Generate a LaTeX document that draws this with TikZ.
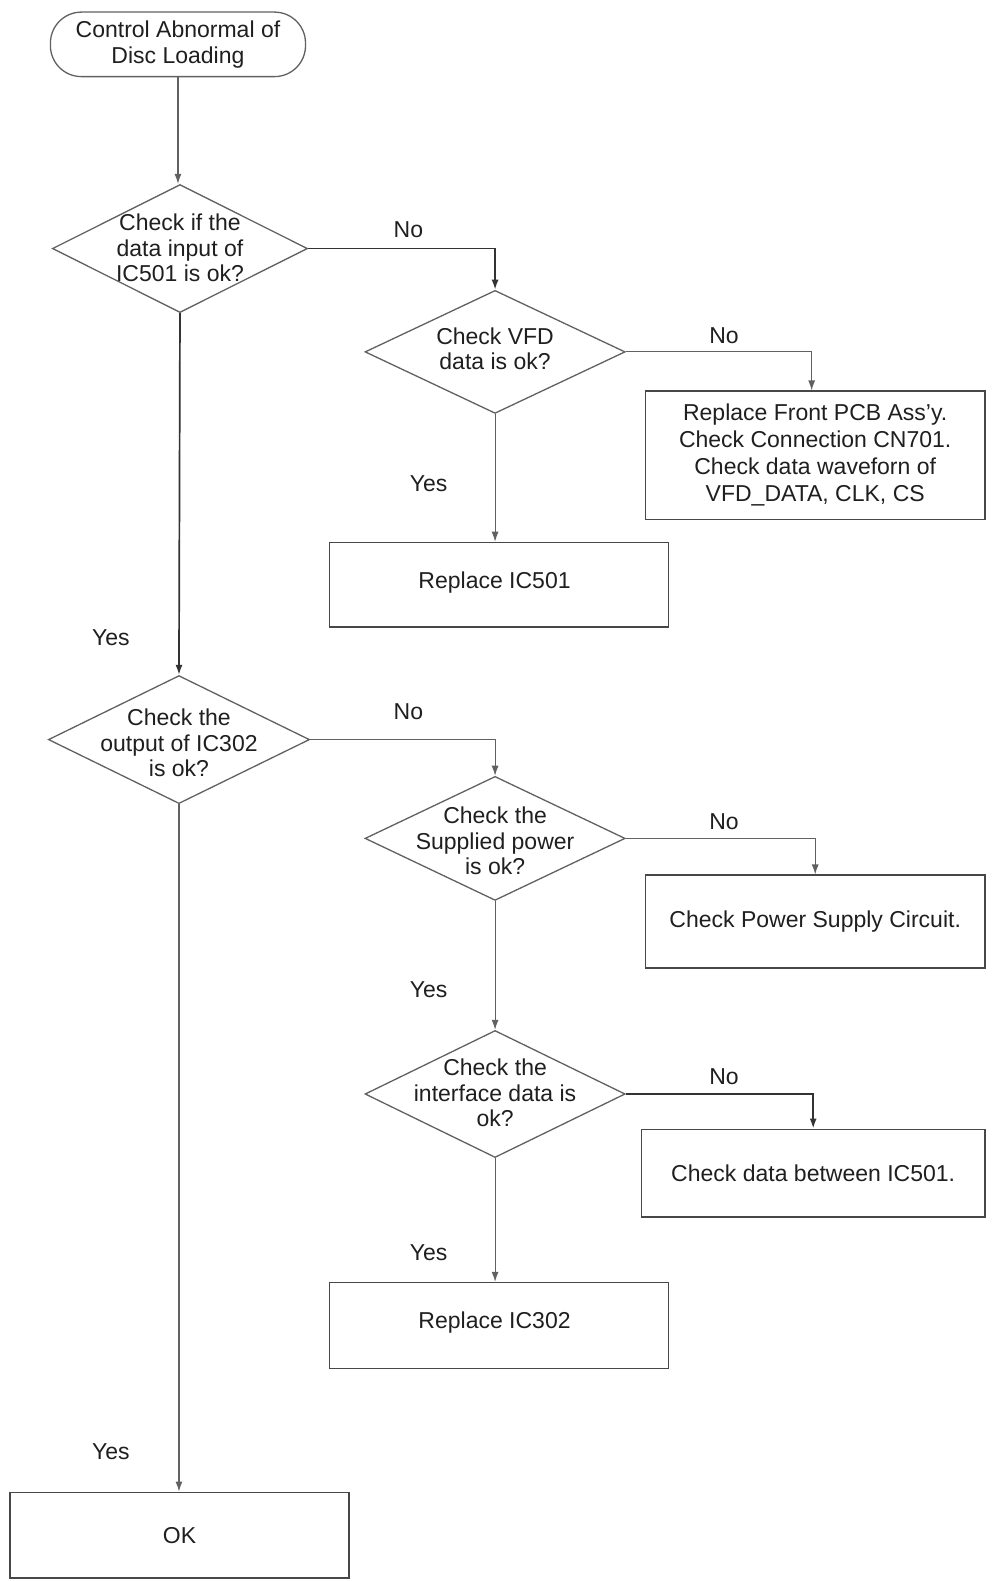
\documentclass[tikz,border=0pt]{standalone}
\usepackage{fontspec}
\setmainfont{Liberation Sans}
\usetikzlibrary{shapes.geometric,arrows.meta}
\begin{document}
\begin{tikzpicture}[x=1.008pt,y=-1.008pt,
  every node/.style={font=\fontsize{23}{25.5}\selectfont, text=black!88},
  ln/.style={draw=black!62, line width=1.1pt},
  thk/.style={draw=black!80, line width=1.7pt},
  arrtip/.style={-{Latex[length=10pt,width=7pt]}},
  box/.style={draw=black!72, line width=1.5pt, rectangle, align=center, inner sep=0pt},
  dia/.style={draw=black!62, line width=1.3pt, diamond, inner sep=0pt},
  dtext/.style={align=center},
  lbl/.style={inner sep=0pt}]
\fill[white] (0,0) rectangle (984,1568);
\useasboundingbox (0,0) rectangle (984,1568);

% start
\node[draw=black!62, line width=1.3pt, rectangle, rounded corners=31pt,
  minimum width=253*1.008pt, minimum height=64*1.008pt, align=center, inner sep=0pt]
  (start) at (176.5,44) {Control Abnormal of\\Disc Loading};

% diamonds
\node[dia, minimum width=253*1.008pt, minimum height=127*1.008pt] (d1) at (178.5,246.5) {};
\node[dtext] (t1) at (178.5,246) {Check if the\\data input of\\IC501 is ok?};

\node[dia, minimum width=258*1.008pt, minimum height=122*1.008pt] (d2) at (491,349) {};
\node[dtext] (t2) at (491,346) {Check VFD\\data is ok?};

\node[dia, minimum width=259*1.008pt, minimum height=127*1.008pt] (d3) at (177.5,733.5) {};
\node[dtext] (t3) at (177.5,737) {Check the\\output of IC302\\is ok?};

\node[dia, minimum width=258*1.008pt, minimum height=123*1.008pt] (d4) at (491,831.5) {};
\node[dtext] (t4) at (491,834) {Check the\\Supplied power\\is ok?};

\node[dia, minimum width=258*1.008pt, minimum height=126*1.008pt] (d5) at (491,1085) {};
\node[dtext] (t5) at (491,1084) {Check the\\interface data is\\ok?};

% boxes
\node[box, minimum width=337*1.008pt, minimum height=127*1.008pt, font=\fontsize{23}{27}\selectfont] (b1) at (808.5,451.5)
  {Replace Front PCB Ass'y.\\Check Connection CN701.\\Check data waveforn of\\VFD\_DATA, CLK, CS};
\node[box, minimum width=336*1.008pt, minimum height=84*1.008pt] (b2) at (495,580) {};
\node (b2t) at (490.5,578) {Replace IC501};
\node[box, minimum width=337*1.008pt, minimum height=92*1.008pt] (b3) at (808.5,914) {Check Power Supply Circuit.};
\node[box, minimum width=341*1.008pt, minimum height=87*1.008pt] (b4) at (806.5,1163.5) {Check data between IC501.};
\node[box, minimum width=336*1.008pt, minimum height=85*1.008pt] (b5) at (495,1314.5) {};
\node (b5t) at (490.5,1312) {Replace IC302};
\node[box, minimum width=336*1.008pt, minimum height=85*1.008pt] (b6) at (178,1522.5) {OK};

% connectors
\draw[ln, arrtip] (start.south) -- (start.south |- d1.north);
\draw[thk, arrtip] (d1.east) -| (d2.north);
\draw[ln, arrtip] (d2.east) -| (b1.north -| 805,0);
\draw[ln, arrtip] (d2.south) -- (d2.south |- b2.north);
\draw[thk, arrtip] (d1.south) -- (d3.north);
\draw[ln, arrtip] (d3.east) -| (d4.north);
\draw[ln, arrtip] (d4.east) -| (b3.north);
\draw[ln, arrtip] (d4.south) -- (d5.north);
\draw[thk, arrtip] (d5.east) -| (b4.north);
\draw[ln, arrtip] (d5.south) -- (d5.south |- b5.north);
\draw[ln, arrtip] (d3.south) -- (d3.south |- b6.north);

% labels
\node[lbl] (n1) at (405,228) {No};
\node[lbl] (n2) at (718,333) {No};
\node[lbl] (y2) at (425,480) {Yes};
\node[lbl] (y1) at (110,632) {Yes};
\node[lbl] (n3) at (405,706) {No};
\node[lbl] (n4) at (718,815) {No};
\node[lbl] (y4) at (425,982) {Yes};
\node[lbl] (n5) at (718,1068) {No};
\node[lbl] (y5) at (425,1242) {Yes};
\node[lbl] (y3) at (110,1440) {Yes};
\end{tikzpicture}
\end{document}
